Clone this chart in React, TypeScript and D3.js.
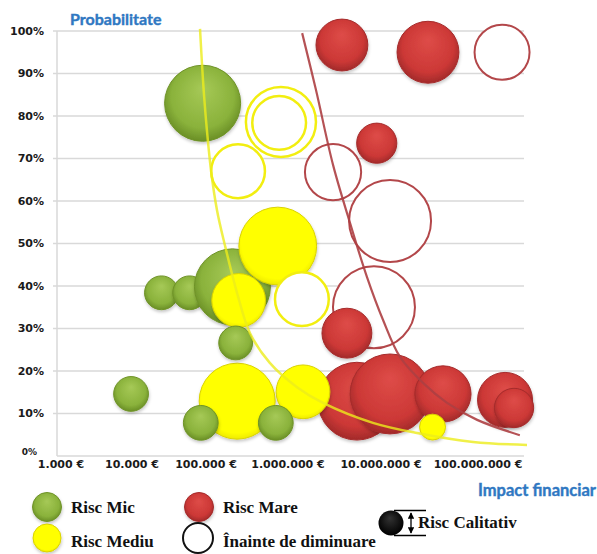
import React from "react";
import * as d3 from "d3";

// Axis ticks
const impactTicks = [1e3, 1e4, 1e5, 1e6, 1e7, 1e8];
const probTicks = [0, 10, 20, 30, 40, 50, 60, 70, 80, 90, 100];

// Bubbles: impact (€), probability (%), size (relative)
const riscMic = [
  { impact: 90000, prob: 83, size: 86 },
  { impact: 25000, prob: 38.4, size: 17 },
  { impact: 60000, prob: 38.4, size: 17 },
  { impact: 210000, prob: 39.8, size: 86 },
  { impact: 230000, prob: 26.6, size: 17 },
  { impact: 9700, prob: 14.6, size: 18 },
  { impact: 85000, prob: 7.8, size: 18 },
  { impact: 710000, prob: 7.8, size: 18 },
];

const riscMediu = [
  { impact: 750000, prob: 49.4, size: 90 },
  { impact: 250000, prob: 36.6, size: 43 },
  { impact: 240000, prob: 12.9, size: 86 },
  { impact: 1450000, prob: 15.1, size: 43 },
  { impact: 34000000, prob: 6.8, size: 10 },
];

const mediuInainte = [
  { impact: 820000, prob: 78.6, size: 73 },
  { impact: 780000, prob: 78.4, size: 43 },
  { impact: 246000, prob: 67, size: 43 },
  { impact: 1410000, prob: 36.9, size: 43 },
];

const riscMare = [
  { impact: 3800000, prob: 96.7, size: 40 },
  { impact: 30500000, prob: 95, size: 57 },
  { impact: 9000000, prob: 73.6, size: 24 },
  { impact: 4300000, prob: 28.9, size: 37 },
  { impact: 5500000, prob: 12.9, size: 90 },
  { impact: 12400000, prob: 14.6, size: 95 },
  { impact: 43500000, prob: 14.6, size: 47 },
  { impact: 190000000, prob: 13.2, size: 45 },
  { impact: 235000000, prob: 11.3, size: 23 },
];

const mareInainte = [
  { impact: 177000000, prob: 95, size: 45 },
  { impact: 3050000, prob: 66.8, size: 47 },
  { impact: 12400000, prob: 55.3, size: 100 },
  { impact: 8400000, prob: 35, size: 100 },
];

// Iso-risk curves: [impact, probability]
const curbaMediu: [number, number][] = [
  [83000, 100.5], [91000, 88.5], [100000, 79.1], [115000, 67.3], [136000, 57.9],
  [170000, 49.6], [239000, 38.4], [344000, 28.9], [600000, 21.9], [1250000, 16.2],
  [2380000, 12.5], [8200000, 7.8], [23500000, 5.4], [89000000, 3.3], [320000000, 2.6],
];

const curbaMare: [number, number][] = [
  [1420000, 99.5], [2000000, 86.1], [3050000, 68.5], [4650000, 54.8], [7070000, 42.1],
  [10500000, 32], [15700000, 23.3], [27100000, 17.2], [48000000, 12.5], [98000000, 8.5],
  [270000000, 4.9],
];

type Bubble = { impact: number; prob: number; size: number };

const euro = d3.formatLocale({ decimal: ",", thousands: ".", grouping: [3], currency: ["", " €"] }).format(",.0f");

const tickFont = "'DejaVu Sans', sans-serif";
const serifFont = "'Liberation Serif', 'Times New Roman', serif";
const titleFont = "Lato, 'Open Sans', sans-serif";

export default function App() {
  const x = d3.scaleLog().domain(impactTicks).range([61, 132, 206, 288, 381, 478]);
  const y = d3.scaleLinear().domain([0, 100]).range([456, 31]);
  const r = d3.scaleSqrt().domain([0, 100]).range([0, 41]);

  const line = d3
    .line<[number, number]>()
    .x((d) => x(d[0]))
    .y((d) => y(d[1]))
    .curve(d3.curveCatmullRom.alpha(0.5));

  const filled = (d: Bubble, fill: string, stroke: string, key: string) => (
    <circle key={key} cx={x(d.impact)} cy={y(d.prob)} r={r(d.size)} fill={fill} stroke={stroke} strokeWidth={1} filter="url(#shadow)" />
  );
  const ring = (d: Bubble, stroke: string, width: number, key: string) => (
    <circle key={key} cx={x(d.impact)} cy={y(d.prob)} r={r(d.size)} fill="#fff" stroke={stroke} strokeWidth={width} />
  );

  const green = (i: number) => filled(riscMic[i], "url(#gGreen)", "#6f9328", `mic${i}`);

  return (
    <div style={{ position: "absolute", left: 0, top: 0 }}>
      <svg width={597} height={554} style={{ display: "block", background: "#fff" }}>
        <defs>
          <radialGradient id="gGreen" cx="50%" cy="45%" r="55%" fx="50%" fy="30%">
            <stop offset="0%" stopColor="#a6c957" />
            <stop offset="75%" stopColor="#8ab23b" />
            <stop offset="100%" stopColor="#6a8f26" />
          </radialGradient>
          <radialGradient id="gRed" cx="50%" cy="45%" r="55%" fx="50%" fy="30%">
            <stop offset="0%" stopColor="#de4c48" />
            <stop offset="75%" stopColor="#cc3836" />
            <stop offset="100%" stopColor="#a22a2a" />
          </radialGradient>
          <radialGradient id="gYellow" cx="50%" cy="45%" r="55%">
            <stop offset="0%" stopColor="#ffff00" />
            <stop offset="85%" stopColor="#ffff00" />
            <stop offset="100%" stopColor="#eeea00" />
          </radialGradient>
          <radialGradient id="gBlack" cx="50%" cy="45%" r="55%" fx="45%" fy="30%">
            <stop offset="0%" stopColor="#333" />
            <stop offset="100%" stopColor="#000" />
          </radialGradient>
          <filter id="shadow" x="-20%" y="-20%" width="140%" height="150%">
            <feDropShadow dx="0.5" dy="2" stdDeviation="1.5" floodColor="#000" floodOpacity="0.22" />
          </filter>
          <marker id="arr" viewBox="0 0 10 10" refX="9" refY="5" markerWidth="5" markerHeight="5" orient="auto-start-reverse">
            <path d="M0,0 L10,5 L0,10 z" fill="#000" />
          </marker>
        </defs>

        {/* grid */}
        {probTicks.map((t) => (
          <line key={`g${t}`} x1={t === 0 ? 57 : 53} x2={524} y1={y(t)} y2={y(t)} stroke="#d9d9d9" strokeWidth={1.5} />
        ))}
        <line x1={57} x2={57} y1={y(100)} y2={y(0)} stroke="#d9d9d9" strokeWidth={1.5} />

        {/* y tick labels; the 0% one sits a little higher, clear of the first x label */}
        {probTicks.map((t) => (
          <text
            key={`yl${t}`}
            x={t === 0 ? 37 : 44}
            y={t === 0 ? y(t) - 4 : y(t)}
            dy="0.35em"
            textAnchor="end"
            fontFamily={tickFont}
            fontWeight="bold"
            fontSize={t === 0 ? 9 : 11}
            fill="#1a1a1a"
          >
            {t}%
          </text>
        ))}

        {/* x tick labels */}
        {impactTicks.map((t) => (
          <text key={`xl${t}`} x={x(t)} y={468} textAnchor="middle" fontFamily={tickFont} fontWeight="bold" fontSize={11} fill="#1a1a1a">
            {euro(t)} €
          </text>
        ))}

        {/* bubbles */}
        {mareInainte.map((d, i) => ring(d, "#b3474a", 2, `mi${i}`))}
        {riscMare.map((d, i) => filled(d, "url(#gRed)", "#a52b2b", `ma${i}`))}
        {[1, 2, 3, 0, 5].map(green)}
        {riscMediu.map((d, i) => filled(d, "url(#gYellow)", "#d9d200", `me${i}`))}
        {mediuInainte.map((d, i) => ring(d, "#f2ee10", 2.5, `mdi${i}`))}
        {[4, 6, 7].map(green)}

        {/* iso-risk curves */}
        <path d={line(curbaMare) ?? ""} fill="none" stroke="#ad3f42" strokeWidth={2.2} strokeOpacity={0.9} />
        <path d={line(curbaMediu) ?? ""} fill="none" stroke="#ecec1c" strokeWidth={2.5} strokeOpacity={0.8} />

        {/* axis titles */}
        <text x={70} y={25} fontFamily={titleFont} fontWeight="bold" fontSize={16} fill="#2f78c2" stroke="#2f78c2" strokeWidth={0.4}>
          Probabilitate
        </text>
        <text x={596} y={496} textAnchor="end" fontFamily={titleFont} fontWeight="bold" fontSize={16.5} fill="#2f78c2" stroke="#2f78c2" strokeWidth={0.4}>
          Impact financiar
        </text>

        {/* legend */}
        <circle cx={47} cy={507} r={14.5} fill="url(#gGreen)" stroke="#6f9328" filter="url(#shadow)" />
        <text x={71} y={513} fontFamily={serifFont} fontWeight="bold" fontSize={17} fill="#111">Risc Mic</text>
        <circle cx={47} cy={538} r={14} fill="url(#gYellow)" stroke="#d9d200" filter="url(#shadow)" />
        <text x={71} y={547} fontFamily={serifFont} fontWeight="bold" fontSize={17} fill="#111">Risc Mediu</text>
        <circle cx={199} cy={507} r={14.5} fill="url(#gRed)" stroke="#a52b2b" filter="url(#shadow)" />
        <text x={223} y={513} fontFamily={serifFont} fontWeight="bold" fontSize={17} fill="#111">Risc Mare</text>
        <circle cx={198} cy={538} r={15} fill="#fff" stroke="#111" strokeWidth={2} />
        <text x={223} y={547} fontFamily={serifFont} fontWeight="bold" fontSize={17} fill="#111">Înainte de diminuare</text>

        <circle cx={391} cy={523} r={12.5} fill="url(#gBlack)" />
        <line x1={394} x2={426} y1={510.5} y2={510.5} stroke="#000" strokeWidth={1.5} />
        <line x1={394} x2={426} y1={535.5} y2={535.5} stroke="#000" strokeWidth={1.5} />
        <line x1={411} x2={411} y1={513} y2={533} stroke="#000" strokeWidth={1.3} markerStart="url(#arr)" markerEnd="url(#arr)" />
        <text x={418} y={528} fontFamily={serifFont} fontWeight="bold" fontSize={17} fill="#111">Risc Calitativ</text>
      </svg>
    </div>
  );
}
